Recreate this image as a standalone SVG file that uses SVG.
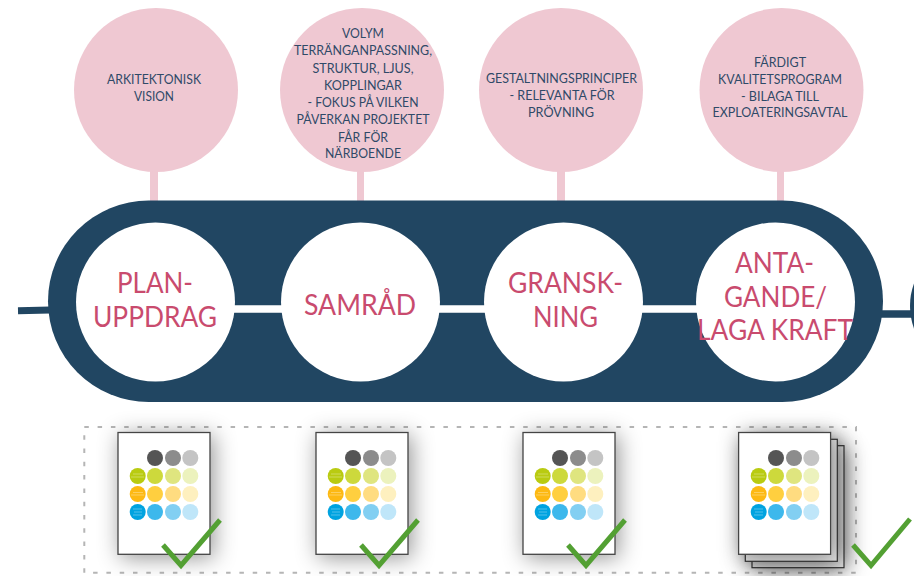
<svg xmlns="http://www.w3.org/2000/svg" width="914" height="576" viewBox="0 0 914 576">
<defs>
<style>
.pink{fill:#efc8d2}
.band{fill:#214662}
.wh{fill:#fff}
.t{font-family:Lato,"Liberation Sans",sans-serif;font-size:12.8px;fill:#2f4a68;text-anchor:middle}
.b{font-family:Lato,"Liberation Sans",sans-serif;font-size:29px;fill:#c94b6e;text-anchor:middle}
.page{fill:#fff;stroke:#444;stroke-width:1.3}
.back{fill:#e4e4e4;stroke:#333;stroke-width:1.2}
.chk{fill:none;stroke:#53a033;stroke-width:5}
.lbl{stroke:#fff;stroke-width:.7;opacity:.45;fill:none}
</style>
<filter id="sh" x="-60%" y="-50%" width="220%" height="200%"><feDropShadow dx="3" dy="3" stdDeviation="11" flood-color="#000" flood-opacity="0.42"/></filter>
<g id="dots">
<circle cx="37" cy="25" r="8" fill="#555"/><circle cx="55" cy="25" r="8" fill="#8c8c8c"/><circle cx="72.3" cy="25" r="8" fill="#c4c4c4"/>
<circle cx="19.7" cy="43" r="8" fill="#b9cb11"/><circle cx="37" cy="43" r="8" fill="#cdd93c"/><circle cx="55" cy="43" r="8" fill="#dfe57f"/><circle cx="72.3" cy="43" r="8" fill="#ecf2bd"/>
<circle cx="19.7" cy="61" r="8" fill="#fdb913"/><circle cx="37" cy="61" r="8" fill="#ffcf3f"/><circle cx="55" cy="61" r="8" fill="#ffdc80"/><circle cx="72.3" cy="61" r="8" fill="#fef0bf"/>
<circle cx="19.7" cy="79" r="8" fill="#00a3e0"/><circle cx="37" cy="79" r="8" fill="#3db8ec"/><circle cx="55" cy="79" r="8" fill="#82cff2"/><circle cx="72.3" cy="79" r="8" fill="#bfe6f9"/>
<path class="lbl" d="M15 41H25M13 44H26M15 59.500H25M13 62H26M15 76H24M16 79H24M15 82H24"/>
</g>
</defs>
<rect width="914" height="576" fill="#fff"/>
<g id="connectors">
<rect class="pink" x="150" y="165" width="8" height="37"/>
<rect class="pink" x="357" y="165" width="7" height="37"/>
<rect class="pink" x="557" y="165" width="8" height="37"/>
<rect class="pink" x="777" y="165" width="7" height="37"/>
<path d="M18 310.700L50 310" stroke="#214662" stroke-width="7" fill="none"/>
<path d="M880 314H914" stroke="#214662" stroke-width="7.500" fill="none"/>
<circle class="band" cx="975" cy="306" r="65"/>
</g>
<g id="band"><rect class="band" x="48" y="200.500" width="835" height="201.500" rx="100.700"/>
<path d="M230 309H285M436 309H488M639 309H700" stroke="#fff" stroke-width="7.500" fill="none"/></g>
<g id="vision"><circle class="pink" cx="156" cy="90" r="82"/>
<text class="t" x="154" y="84" textLength="94" lengthAdjust="spacingAndGlyphs">ARKITEKTONISK</text><text class="t" x="154" y="101" textLength="40" lengthAdjust="spacingAndGlyphs">VISION</text></g>
<g id="volym"><circle class="pink" cx="362" cy="90" r="82"/>
<text class="t" x="363" y="38" textLength="42" lengthAdjust="spacingAndGlyphs">VOLYM</text>
<text class="t" x="363" y="55" textLength="138" lengthAdjust="spacingAndGlyphs">TERRÄNGANPASSNING,</text>
<text class="t" x="363" y="72.500" textLength="101" lengthAdjust="spacingAndGlyphs">STRUKTUR, LJUS,</text>
<text class="t" x="363" y="89.500" textLength="78" lengthAdjust="spacingAndGlyphs">KOPPLINGAR</text>
<text class="t" x="363" y="107" textLength="111" lengthAdjust="spacingAndGlyphs">- FOKUS PÅ VILKEN</text>
<text class="t" x="363" y="124" textLength="133" lengthAdjust="spacingAndGlyphs">PÅVERKAN PROJEKTET</text>
<text class="t" x="363" y="141.500" textLength="50" lengthAdjust="spacingAndGlyphs">FÅR FÖR</text>
<text class="t" x="363" y="158" textLength="76" lengthAdjust="spacingAndGlyphs">NÄRBOENDE</text></g>
<g id="gestaltning"><circle class="pink" cx="561" cy="90" r="82"/>
<text class="t" x="561.500" y="83" textLength="151" lengthAdjust="spacingAndGlyphs">GESTALTNINGSPRINCIPER</text>
<text class="t" x="562" y="100" textLength="105" lengthAdjust="spacingAndGlyphs">- RELEVANTA FÖR</text>
<text class="t" x="561" y="117" textLength="66" lengthAdjust="spacingAndGlyphs">PRÖVNING</text></g>
<g id="fardigt"><circle class="pink" cx="781.500" cy="90" r="82"/>
<text class="t" x="780" y="67" textLength="52" lengthAdjust="spacingAndGlyphs">FÄRDIGT</text>
<text class="t" x="780" y="84" textLength="124" lengthAdjust="spacingAndGlyphs">KVALITETSPROGRAM</text>
<text class="t" x="780" y="100.700" textLength="78" lengthAdjust="spacingAndGlyphs">- BILAGA TILL</text>
<text class="t" x="780" y="117.300" textLength="135" lengthAdjust="spacingAndGlyphs">EXPLOATERINGSAVTAL</text></g>
<g id="planuppdrag"><circle class="wh" cx="155.500" cy="302" r="79.500"/>
<text class="b" x="155" y="293" textLength="76" lengthAdjust="spacingAndGlyphs">PLAN-</text>
<text class="b" x="155" y="327" textLength="124" lengthAdjust="spacingAndGlyphs">UPPDRAG</text></g>
<g id="samrad"><circle class="wh" cx="360.500" cy="302" r="79.500"/>
<text class="b" x="360" y="315" textLength="112" lengthAdjust="spacingAndGlyphs">SAMRÅD</text></g>
<g id="granskning"><circle class="wh" cx="563.500" cy="302" r="79.500"/>
<text class="b" x="565.500" y="293" textLength="115" lengthAdjust="spacingAndGlyphs">GRANSK-</text>
<text class="b" x="565.500" y="327" textLength="65" lengthAdjust="spacingAndGlyphs">NING</text></g>
<g id="antagande"><circle class="wh" cx="775.500" cy="302" r="79.500"/>
<text class="b" x="774.500" y="273" textLength="79" lengthAdjust="spacingAndGlyphs">ANTA-</text>
<text class="b" x="775.500" y="307" textLength="103" lengthAdjust="spacingAndGlyphs">GANDE/</text>
<text class="b" x="775" y="340" textLength="156" lengthAdjust="spacingAndGlyphs">LAGA KRAFT</text></g>
<g id="frame"><rect x="84.300" y="427" width="771.700" height="145.700" fill="none" stroke="#b5b5b5" stroke-width="2" stroke-dasharray="4.500 8.800"/></g>
<g id="doc1"><rect class="page" x="118" y="432.500" width="92" height="121.800" filter="url(#sh)"/><use href="#dots" x="118" y="433"/><path class="chk" d="M163 545L181 565.500L220 520"/></g>
<g id="doc2"><rect class="page" x="316" y="432.500" width="92" height="121.800" filter="url(#sh)"/><use href="#dots" x="316" y="433"/><path class="chk" d="M361 545L379 565.500L418 520"/></g>
<g id="doc3"><rect class="page" x="523" y="432.500" width="92" height="121.800" filter="url(#sh)"/><use href="#dots" x="523" y="433"/><path class="chk" d="M568 545L586 565.500L625 520"/></g>
<g id="doc4"><rect class="back" x="752" y="445.700" width="92" height="122" filter="url(#sh)"/><rect class="back" x="745.300" y="439.300" width="92" height="122" filter="url(#sh)"/><rect class="page" x="738.600" y="432.500" width="92" height="121.800" filter="url(#sh)"/><use href="#dots" x="739" y="433"/><path class="chk" d="M853 545L871 565.500L910 519"/></g>
</svg>
